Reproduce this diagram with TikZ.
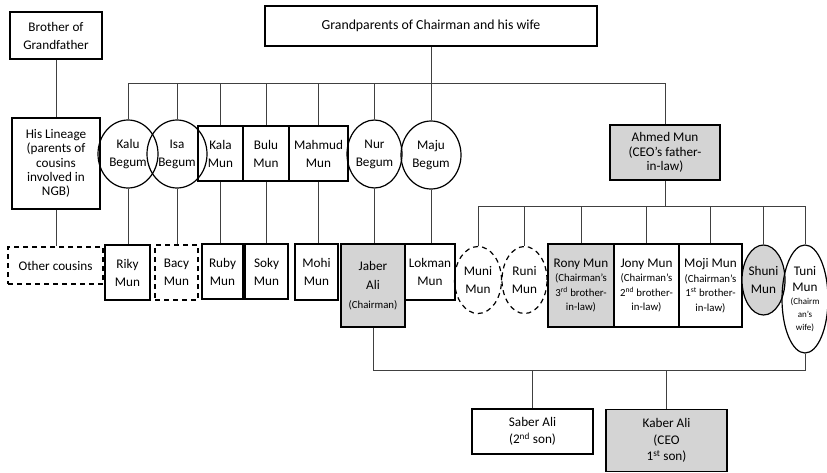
\documentclass[tikz,border=0pt]{standalone}
\usepackage{fontspec}
\setmainfont{Carlito}
\usetikzlibrary{shapes.geometric}

\tikzset{
  box/.style={draw,line width=1.2pt,inner sep=0pt,align=center,font=\fontsize{13.2}{18}\selectfont},
  oval/.style={box,ellipse},
  grey/.style={fill=black!17},
  dashy/.style={dash pattern=on 5pt off 4pt},
  wh/.style 2 args={minimum width=#1,minimum height=#2},
  link/.style={draw=black!75,line width=0.8pt}
}
\newcommand\sm{\fontsize{10.8}{12}\selectfont}
\newcommand\xs{\fontsize{9}{10}\selectfont}

\begin{document}
\begin{tikzpicture}[x=1pt,y=-1pt]
    \useasboundingbox (0,0) rectangle (827,472);

    \node[box,wh={92pt}{47pt}] (bro) at (56,35.5) {Brother of\\Grandfather};
    \node[box,wh={332pt}{40pt},font=\fontsize{13.8}{18}\selectfont] (grand) at (431,26) {Grandparents of Chairman and his wife};

    \node[box,wh={88pt}{91pt},font=\fontsize{13.2}{14.3}\selectfont] (lineage) at (56,163.5)
        {His Lineage\\(parents of\\cousins\\involved in\\NGB)};
    \node[oval,wh={60pt}{68pt}] (kalu) at (128,154) {Kalu\\Begum};
    \node[oval,wh={60pt}{68pt}] (isa) at (177,154) {Isa\\Begum};
    \node[box,wh={45pt}{55pt}] (kala) at (220.5,153.5) {Kala\\Mun};
    \node[box,wh={46pt}{55pt}] (bulu) at (266,153.5) {Bulu\\Mun};
    \node[box,wh={59pt}{55pt}] (mahmud) at (318.5,153.5) {Mahmud\\Mun};
    \node[oval,wh={55pt}{68pt}] (nur) at (374.5,154) {Nur\\Begum};
    \node[oval,wh={60pt}{68pt}] (maju) at (431,155) {Maju\\Begum};
    \node[box,grey,line width=1.8pt,wh={110pt}{55pt},font=\fontsize{13.2}{14.5}\selectfont] (ahmed) at (665,152.5)
        {Ahmed Mun\\(CEO’s father-\\in-law)};

    \node[box,dashy,wh={95pt}{37pt}] (other) at (55.5,265.5) {Other cousins};
    \node[box,wh={45pt}{55pt}] (riky) at (127.5,272.5) {Riky\\Mun};
    \node[box,dashy,wh={43pt}{55pt}] (bacy) at (176.5,272.5) {Bacy\\Mun};
    \node[box,wh={41pt}{55pt}] (ruby) at (222.5,271.5) {Ruby\\Mun};
    \node[box,wh={43pt}{55pt}] (soky) at (266.5,271.5) {Soky\\Mun};
    \node[box,wh={43pt}{56pt}] (mohi) at (316.5,272) {Mohi\\Mun};
    \node[box,grey,wh={64pt}{83pt},font=\fontsize{13.2}{19}\selectfont] (jaber) at (373,285.5) {Jaber\\Ali\\\sm (Chairman)};
    \node[box,wh={50pt}{56pt}] (lokman) at (430,272) {Lokman\\Mun};
    \node[oval,dashy,wh={47pt}{67pt}] (muni) at (478,280) {Muni\\Mun};
    \node[oval,dashy,wh={45pt}{67pt}] (runi) at (524.5,280) {Runi\\Mun};
    \node[box,grey,wh={66pt}{83pt},font=\fontsize{13.2}{14.5}\selectfont] (rony) at (581,285.5)
        {Rony Mun\\\sm (Chairman’s\\\sm 3\textsuperscript{rd} brother-\\\sm in-law)};
    \node[box,wh={65pt}{83pt},font=\fontsize{13.2}{14.5}\selectfont] (jony) at (646.5,285.5)
        {Jony Mun\\\sm (Chairman’s\\\sm 2\textsuperscript{nd} brother-\\\sm in-law)};
    \node[box,wh={63pt}{83pt},font=\fontsize{13.2}{14.5}\selectfont] (moji) at (710.5,285.5)
        {Moji Mun\\\sm (Chairman’s\\\sm 1\textsuperscript{st} brother-\\\sm in-law)};
    \node[oval,grey,wh={43pt}{70pt}] (shuni) at (763.5,280) {Shuni\\Mun};
    \node[oval,wh={46pt}{108pt},font=\fontsize{13.2}{16}\selectfont] (tuni) at (805,299)
        {Tuni\\Mun\\[-3pt]\xs (Chairm\\[-3pt]\xs an’s\\[-3pt]\xs wife)};

    \node[box,wh={121pt}{45pt},font=\fontsize{13.2}{17}\selectfont] (saber) at (532.5,431.5)
        {Saber Ali\\(2\textsuperscript{nd} son)};
    \node[box,grey,wh={121pt}{62pt},font=\fontsize{13.2}{16.5}\selectfont] (kaber) at (666.5,440.5)
        {Kaber Ali\\(CEO\\1\textsuperscript{st} son)};

    \coordinate (top) at (0,83);
    \coordinate (mid) at (0,206);
    \coordinate (low) at (0,370);

    \draw[link] (bro) -- (lineage);
    \draw[link] (grand) -- (grand |- top);
    \draw[link] (kalu |- top) -- (ahmed |- top);
    \foreach \n in {kalu,isa,kala,bulu,mahmud,nur,maju,ahmed}
        \draw[link] (\n |- top) -- (\n.north);
    \foreach \a/\b in {lineage/other,kalu/riky,isa/bacy,kala/ruby,bulu/soky,mahmud/mohi,nur/jaber,maju/lokman}
        \draw[link] (\a.south) -- (\a.south |- \b.north);

    \draw[link] (ahmed) -- (ahmed |- mid);
    \draw[link] (muni |- mid) -- (tuni |- mid);
    \foreach \n in {muni,runi,rony,jony,moji,shuni,tuni}
        \draw[link] (\n |- mid) -- (\n.north);

    \draw[link] (jaber) |- (tuni |- low) -- (tuni);
    \foreach \n in {saber,kaber}
        \draw[link] (\n) -- (\n |- low);
\end{tikzpicture}
\end{document}
